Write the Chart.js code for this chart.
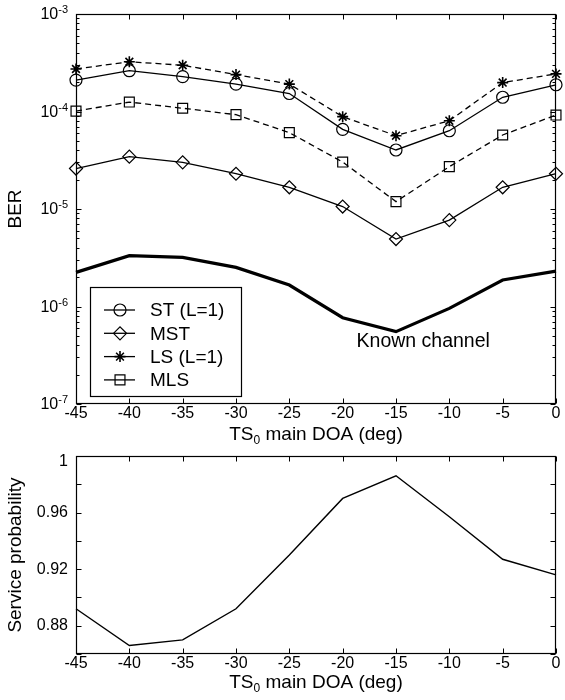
<!DOCTYPE html>
<html>
<head>
<meta charset="utf-8">
<script src="https://cdn.jsdelivr.net/npm/chart.js@4"></script>
<style>
  body { margin: 0; background: #fff; }
  .box { position: absolute; left: 0; width: 565px; }
</style>
</head>
<body>
<div class="box" style="top:0;height:445px"><canvas id="ber"></canvas></div>
<div class="box" style="top:445px;height:255px"><canvas id="prob"></canvas></div>
<script>
// data
const doa = [-45, -40, -35, -30, -25, -20, -15, -10, -5, 0];
const berST = [2.1e-4, 2.62e-4, 2.28e-4, 1.91e-4, 1.53e-4, 6.56e-5, 4.03e-5, 6.35e-5, 1.40e-4, 1.88e-4];
const berMST = [2.6e-5, 3.44e-5, 3.01e-5, 2.30e-5, 1.67e-5, 1.06e-5, 4.92e-6, 7.7e-6, 1.67e-5, 2.3e-5];
const berLS = [2.73e-4, 3.24e-4, 2.98e-4, 2.39e-4, 1.91e-4, 8.85e-5, 5.65e-5, 8.05e-5, 1.98e-4, 2.43e-4];
const berMLS = [1.01e-4, 1.25e-4, 1.08e-4, 9.28e-5, 6.07e-5, 3.03e-5, 1.19e-5, 2.72e-5, 5.74e-5, 9.2e-5];
const berKnown = [2.24e-6, 3.32e-6, 3.19e-6, 2.52e-6, 1.66e-6, 7.68e-7, 5.52e-7, 9.56e-7, 1.87e-6, 2.31e-6];
const serviceProb = [0.892, 0.866, 0.870, 0.892, 0.930, 0.970, 0.986, 0.957, 0.927, 0.916];

const berExps = [-3, -4, -5, -6, -7];
const probLabels = [0.88, 0.92, 0.96, 1];
const probMarks = [0.86, 0.88, 0.90, 0.92, 0.94, 0.96, 0.98, 1];

const FONT = '"Liberation Sans", Arial, sans-serif';

const pts = ys => doa.map((x, i) => ({ x: x, y: ys[i] }));

function series(label, ys, style, dash, extra) {
  return Object.assign({
    label: label,
    data: pts(ys),
    borderColor: '#000',
    borderWidth: 1.3,
    borderDash: dash,
    pointStyle: style,
    pointRadius: 6,
    pointBorderWidth: 1.2,
    pointBorderColor: '#000',
    pointBackgroundColor: 'rgba(0,0,0,0)',
    tension: 0,
    clip: false
  }, extra || {});
}

// draws text with a sub/superscript part
function richText(ctx, parts, x, y, align) {
  let w = 0;
  parts.forEach(p => { ctx.font = p.size + 'px ' + FONT; p.w = ctx.measureText(p.t).width; w += p.w; });
  let cx = align === 'right' ? x - w : align === 'center' ? x - w / 2 : x;
  ctx.textAlign = 'left';
  ctx.textBaseline = 'middle';
  parts.forEach(p => {
    ctx.font = p.size + 'px ' + FONT;
    ctx.fillText(p.t, cx, y + (p.dy || 0));
    cx += p.w;
  });
}

const xTitle = [{ t: 'TS', size: 19 }, { t: '0', size: 12, dy: 6 }, { t: ' main DOA (deg)', size: 19 }];

function matlabAxes(cfg) {
  return {
    id: 'matlabAxes',
    afterDatasetsDraw(chart) {
      const { ctx, chartArea: a } = chart;
      const xs = chart.scales.x, ys = chart.scales.y;
      const L = a.left + 0.5, R = a.right - 0.5, T = a.top + 0.5, B = a.bottom - 0.5;
      ctx.save();
      ctx.strokeStyle = '#000';
      ctx.fillStyle = '#000';
      ctx.lineWidth = 1;
      ctx.beginPath();
      // x ticks, top and bottom, pointing in
      doa.forEach(v => {
        const px = Math.round(xs.getPixelForValue(v)) + 0.5;
        ctx.moveTo(px, B); ctx.lineTo(px, B - 5);
        ctx.moveTo(px, T); ctx.lineTo(px, T + 5);
      });
      cfg.yMarks.forEach(m => {
        const py = Math.round(ys.getPixelForValue(m.v)) + 0.5;
        ctx.moveTo(L, py); ctx.lineTo(L + m.len, py);
        ctx.moveTo(R, py); ctx.lineTo(R - m.len, py);
      });
      ctx.stroke();
      ctx.lineWidth = 1.2;
      ctx.strokeRect(L, T, R - L, B - T);

      // x tick labels
      ctx.font = '16px ' + FONT;
      ctx.textAlign = 'center';
      ctx.textBaseline = 'middle';
      doa.forEach(v => ctx.fillText(String(v), xs.getPixelForValue(v), a.bottom + 10));

      // y tick labels
      cfg.yLabels(ctx, ys, a.left - 8);

      // axis titles
      richText(ctx, xTitle, (a.left + a.right) / 2, a.bottom + cfg.titleGap, 'center');
      ctx.save();
      ctx.translate(16, (a.top + a.bottom) / 2);
      ctx.rotate(-Math.PI / 2);
      ctx.font = '19px ' + FONT;
      ctx.textAlign = 'center';
      ctx.textBaseline = 'middle';
      ctx.fillText(cfg.yTitle, 0, 0);
      ctx.restore();

      if (cfg.extra) cfg.extra(chart, ctx, a, xs, ys);
      ctx.restore();
    }
  };
}

// log axis marks: decades plus 2..9 minor ticks
const berMarks = berExps.map(e => ({ v: Math.pow(10, e), len: 5 }));
for (let e = -7; e < -3; e++) {
  for (let k = 2; k <= 9; k++) berMarks.push({ v: k * Math.pow(10, e), len: 3 });
}

function berLegend(chart, ctx, a, xs, ys) {
  // "Known channel" annotation
  ctx.font = '19.5px ' + FONT;
  ctx.textAlign = 'left';
  ctx.textBaseline = 'middle';
  ctx.fillText('Known channel', xs.getPixelForValue(-18.7), ys.getPixelForValue(4.4e-7));

  // legend box in lower-left corner
  const bx = a.left + 14, by = a.top + 273, bw = 151, bh = 109;
  ctx.fillStyle = '#fff';
  ctx.fillRect(bx, by, bw, bh);
  ctx.strokeStyle = '#000';
  ctx.lineWidth = 1.2;
  ctx.strokeRect(bx + 0.5, by + 0.5, bw, bh);
  chart.data.datasets.filter(d => d.inLegend).forEach((d, i) => {
    const ry = by + 23 + i * 23.3;
    ctx.strokeStyle = '#000';
    ctx.lineWidth = 1.3;
    ctx.beginPath();
    ctx.moveTo(bx + 14, ry);
    ctx.lineTo(bx + 45, ry);
    ctx.stroke();
    ctx.fillStyle = 'rgba(0,0,0,0)';
    ctx.lineWidth = d.pointBorderWidth;
    Chart.helpers.drawPoint(ctx, { pointStyle: d.pointStyle, radius: d.pointRadius, borderWidth: d.pointBorderWidth, rotation: 0 }, bx + 30, ry);
    ctx.fillStyle = '#000';
    ctx.font = '19px ' + FONT;
    ctx.textAlign = 'left';
    ctx.textBaseline = 'middle';
    ctx.fillText(d.label, bx + 60, ry + 1);
  });
}

new Chart(document.getElementById('ber'), {
  type: 'line',
  data: {
    datasets: [
      series('ST (L=1)', berST, 'circle', [], { inLegend: true }),
      series('MST', berMST, 'rectRot', [], { inLegend: true, pointRadius: 6.5 }),
      series('LS (L=1)', berLS, 'star', [6, 4], { inLegend: true, pointRadius: 5.5, pointBorderWidth: 1.6 }),
      series('MLS', berMLS, 'rect', [6, 4], { inLegend: true, pointRadius: 7 }),
      series('Known channel', berKnown, 'circle', [], { borderWidth: 3.2, pointRadius: 0 })
    ]
  },
  options: {
    responsive: true,
    maintainAspectRatio: false,
    animation: false,
    events: [],
    layout: { padding: { top: 14, right: 9, left: 0, bottom: 0 } },
    plugins: { legend: { display: false }, tooltip: { enabled: false } },
    scales: {
      x: {
        type: 'linear', min: -45, max: 0,
        ticks: { display: false }, grid: { display: false }, border: { display: false },
        afterFit: s => { s.height = 41; }
      },
      y: {
        type: 'logarithmic', min: 1e-7, max: 1e-3,
        ticks: { display: false }, grid: { display: false }, border: { display: false },
        afterFit: s => { s.width = 76; }
      }
    }
  },
  plugins: [matlabAxes({
    yMarks: berMarks,
    yTitle: 'BER',
    titleGap: 31,
    yLabels: (ctx, ys, right) => {
      berExps.forEach(e => {
        const py = ys.getPixelForValue(Math.pow(10, e));
        richText(ctx, [{ t: '10', size: 16, dy: 1 }, { t: String(e), size: 11, dy: -4 }], right, py, 'right');
      });
    },
    extra: berLegend
  })]
});

new Chart(document.getElementById('prob'), {
  type: 'line',
  data: {
    datasets: [
      series('Service probability', serviceProb, 'circle', [], { pointRadius: 0, borderWidth: 1.4 })
    ]
  },
  options: {
    responsive: true,
    maintainAspectRatio: false,
    animation: false,
    events: [],
    layout: { padding: { top: 11, right: 9, left: 0, bottom: 0 } },
    plugins: { legend: { display: false }, tooltip: { enabled: false } },
    scales: {
      x: {
        type: 'linear', min: -45, max: 0,
        ticks: { display: false }, grid: { display: false }, border: { display: false },
        afterFit: s => { s.height = 46; }
      },
      y: {
        type: 'linear', min: 0.86, max: 1,
        ticks: { display: false }, grid: { display: false }, border: { display: false },
        afterFit: s => { s.width = 76; }
      }
    }
  },
  plugins: [matlabAxes({
    yMarks: probMarks.map(v => ({ v: v, len: 5 })),
    yTitle: 'Service probability',
    titleGap: 29,
    yLabels: (ctx, ys, right) => {
      ctx.font = '16px ' + FONT;
      ctx.textAlign = 'right';
      ctx.textBaseline = 'middle';
      probLabels.forEach(v => {
        const py = ys.getPixelForValue(v) + (v === 1 ? 6 : 0);
        ctx.fillText(String(v), right, py);
      });
    }
  })]
});
</script>
</body>
</html>
